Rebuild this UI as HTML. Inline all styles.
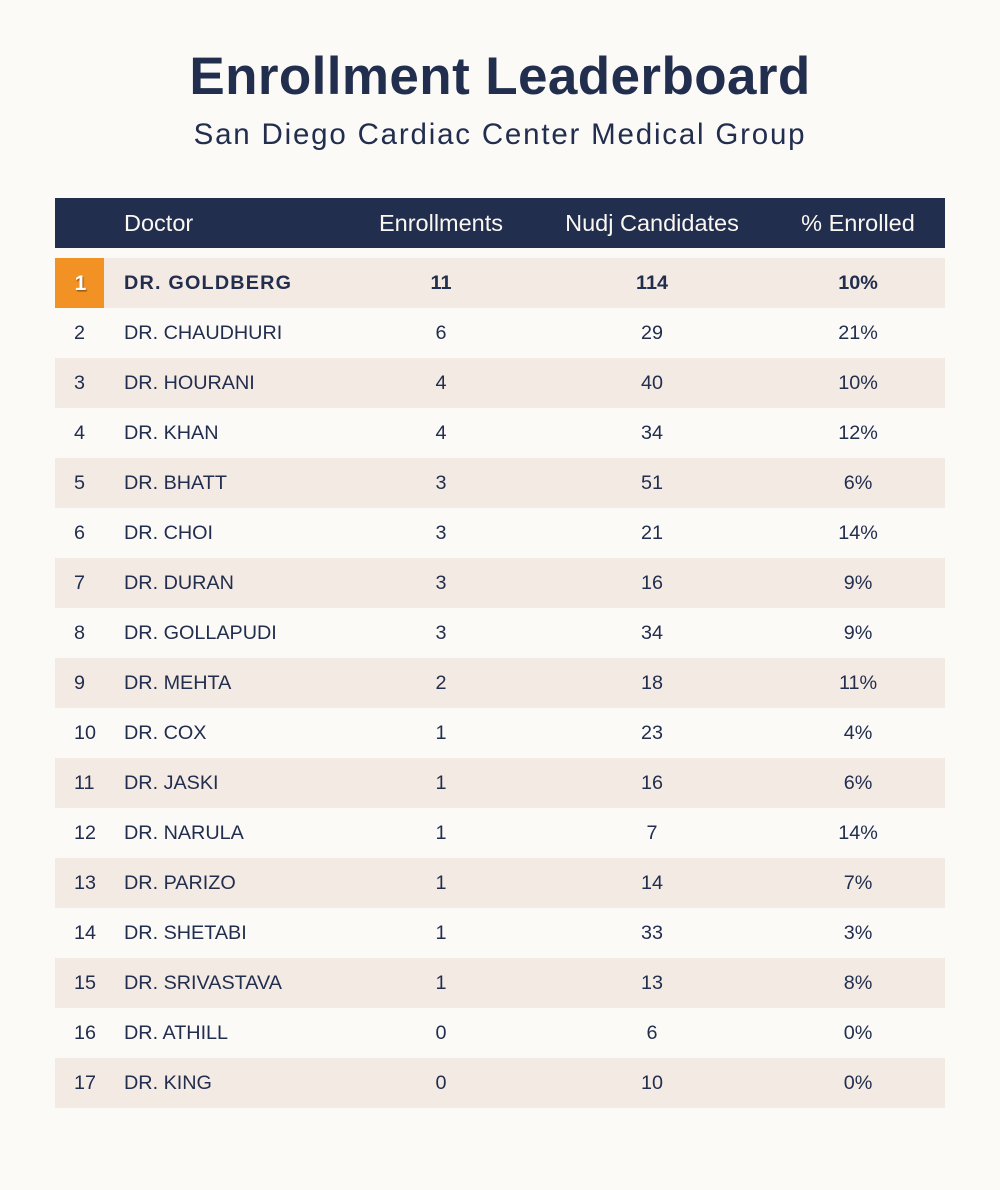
<!DOCTYPE html>
<html>
<head>
<meta charset="utf-8">
<style>
  html, body { margin:0; padding:0; }
  body { width:1000px; height:1190px; background:#FCFAF7; position:relative; overflow:hidden;
         font-family:"Liberation Sans", Arial, sans-serif; color:#222E4E; }
  .title { position:absolute; left:0; width:1000px; top:45px; text-align:center;
           font-size:53px; font-weight:bold; line-height:64px; letter-spacing:0.4px; color:#222E4E; }
  .sub { position:absolute; left:0; width:1000px; top:115px; text-align:center;
         font-size:29.5px; line-height:40px; letter-spacing:1.8px; color:#222E4E; }
  .hdr { position:absolute; left:55px; top:198px; width:890px; height:50px; background:#222E4E; }
  .hdr div { position:absolute; top:0; height:50px; line-height:50px; font-size:23.5px; color:#FBF7F2; }
  .row { position:absolute; left:55px; width:890px; height:50px; }
  .row.alt { background:#F4EAE4; }
  .row div { position:absolute; top:0; height:50px; line-height:51px; font-size:19.8px; color:#222E4E; }
  .rk { left:19px; }
  .nm { left:69px; white-space:nowrap; }
  .c1 { left:336px; width:100px; text-align:center; }
  .c2 { left:547px; width:100px; text-align:center; }
  .c3 { left:753px; width:100px; text-align:center; }
  .row.top div { font-weight:bold; }
  .row.top .nm { letter-spacing:1.2px; }
  .badge { position:absolute; left:0; top:0; width:49px; height:50px; background:#F29225; }
  .row.top .badge div { left:0; width:51px; text-align:center; color:#fff; font-weight:bold; font-size:21px;
         text-shadow:1px 1.5px 1px rgba(80,40,0,0.55); }
</style>
</head>
<body>
<div class="title">Enrollment Leaderboard</div>
<div class="sub">San Diego Cardiac Center Medical Group</div>

<div class="hdr">
  <div style="left:69px;">Doctor</div>
  <div style="left:306px;width:160px;text-align:center;">Enrollments</div>
  <div style="left:497px;width:200px;text-align:center;">Nudj Candidates</div>
  <div style="left:713px;width:180px;text-align:center;">% Enrolled</div>
</div>

<div class="row alt top" style="top:258px;">
  <div class="badge"><div>1</div></div>
  <div class="nm">DR. GOLDBERG</div><div class="c1">11</div><div class="c2">114</div><div class="c3">10%</div>
</div>
<div class="row" style="top:308px;"><div class="rk">2</div><div class="nm">DR. CHAUDHURI</div><div class="c1">6</div><div class="c2">29</div><div class="c3">21%</div></div>
<div class="row alt" style="top:358px;"><div class="rk">3</div><div class="nm">DR. HOURANI</div><div class="c1">4</div><div class="c2">40</div><div class="c3">10%</div></div>
<div class="row" style="top:408px;"><div class="rk">4</div><div class="nm">DR. KHAN</div><div class="c1">4</div><div class="c2">34</div><div class="c3">12%</div></div>
<div class="row alt" style="top:458px;"><div class="rk">5</div><div class="nm">DR. BHATT</div><div class="c1">3</div><div class="c2">51</div><div class="c3">6%</div></div>
<div class="row" style="top:508px;"><div class="rk">6</div><div class="nm">DR. CHOI</div><div class="c1">3</div><div class="c2">21</div><div class="c3">14%</div></div>
<div class="row alt" style="top:558px;"><div class="rk">7</div><div class="nm">DR. DURAN</div><div class="c1">3</div><div class="c2">16</div><div class="c3">9%</div></div>
<div class="row" style="top:608px;"><div class="rk">8</div><div class="nm">DR. GOLLAPUDI</div><div class="c1">3</div><div class="c2">34</div><div class="c3">9%</div></div>
<div class="row alt" style="top:658px;"><div class="rk">9</div><div class="nm">DR. MEHTA</div><div class="c1">2</div><div class="c2">18</div><div class="c3">11%</div></div>
<div class="row" style="top:708px;"><div class="rk">10</div><div class="nm">DR. COX</div><div class="c1">1</div><div class="c2">23</div><div class="c3">4%</div></div>
<div class="row alt" style="top:758px;"><div class="rk">11</div><div class="nm">DR. JASKI</div><div class="c1">1</div><div class="c2">16</div><div class="c3">6%</div></div>
<div class="row" style="top:808px;"><div class="rk">12</div><div class="nm">DR. NARULA</div><div class="c1">1</div><div class="c2">7</div><div class="c3">14%</div></div>
<div class="row alt" style="top:858px;"><div class="rk">13</div><div class="nm">DR. PARIZO</div><div class="c1">1</div><div class="c2">14</div><div class="c3">7%</div></div>
<div class="row" style="top:908px;"><div class="rk">14</div><div class="nm">DR. SHETABI</div><div class="c1">1</div><div class="c2">33</div><div class="c3">3%</div></div>
<div class="row alt" style="top:958px;"><div class="rk">15</div><div class="nm">DR. SRIVASTAVA</div><div class="c1">1</div><div class="c2">13</div><div class="c3">8%</div></div>
<div class="row" style="top:1008px;"><div class="rk">16</div><div class="nm">DR. ATHILL</div><div class="c1">0</div><div class="c2">6</div><div class="c3">0%</div></div>
<div class="row alt" style="top:1058px;"><div class="rk">17</div><div class="nm">DR. KING</div><div class="c1">0</div><div class="c2">10</div><div class="c3">0%</div></div>
</body>
</html>
